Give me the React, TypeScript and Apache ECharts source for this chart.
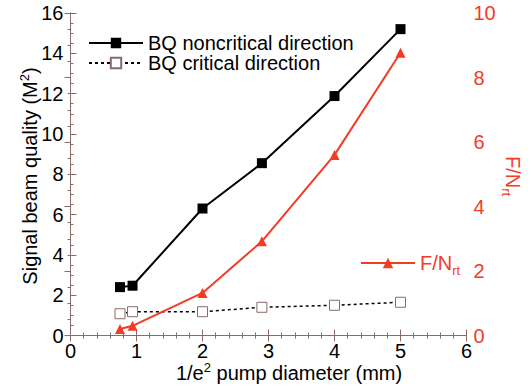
import React, { useEffect, useRef } from "react";
import * as echarts from "echarts";

const xVals = [0.75, 0.94, 2, 2.9, 4, 5];
const nonCritical = [2.4, 2.47, 6.3, 8.55, 11.88, 15.2];
const critical = [1.08, 1.18, 1.18, 1.4, 1.5, 1.65];
const fnrt = [0.2, 0.3, 1.32, 2.92, 5.6, 8.77];

const xTicks = { min: 0, max: 6, interval: 1 };
const yLeftTicks = { min: 0, max: 16, interval: 2 };
const yRightTicks = { min: 0, max: 10, interval: 2 };

const FONT = "'Liberation Sans', Arial, sans-serif";
const AXIS = "#8c6a6a";
const RED = "#f23c26";
const FS = 20;

export default function App() {
  const ref = useRef<HTMLDivElement>(null);
  useEffect(() => {
    document.body.style.margin = "0";
    if (!ref.current) return;
    const chart = echarts.init(ref.current, null, { renderer: "svg" });
    const axisCommon = {
      axisLine: { show: true, lineStyle: { color: AXIS, width: 1 } },
      axisTick: { show: true, inside: true, length: 6, lineStyle: { color: AXIS } },
      minorTick: { show: true, length: 3, lineStyle: { color: AXIS } },
      splitLine: { show: false },
      minorSplitLine: { show: false },
    };
    const pair = (ys: number[]) => xVals.map((x, i) => [x, ys[i]]);
    const supRich = {
      a: { fontSize: FS, fill: "#000", color: "#000", fontFamily: FONT, lineHeight: 24 },
      p: { fontSize: 13, fill: "#000", color: "#000", fontFamily: FONT, verticalAlign: "top", lineHeight: 24, padding: [0, 0, 10, 0] },
    };
    chart.setOption({
      animation: false,
      backgroundColor: "#fff",
      textStyle: { fontFamily: FONT },
      grid: { left: 70.5, right: 64.5, top: 13, bottom: 56.5, containLabel: false },
      xAxis: [
        {
          type: "value", position: "bottom", ...xTicks, ...axisCommon,
          minorTick: { ...axisCommon.minorTick, splitNumber: 5 },
          axisLabel: { fontSize: FS, color: "#000", margin: 5, fontFamily: FONT },
        },
        {
          type: "value", position: "top", ...xTicks, ...axisCommon,
          minorTick: { ...axisCommon.minorTick, splitNumber: 5 },
          axisLabel: { show: false },
        },
      ],
      yAxis: [
        {
          type: "value", position: "left", ...yLeftTicks, ...axisCommon,
          minorTick: { ...axisCommon.minorTick, splitNumber: 4 },
          axisLabel: { fontSize: FS, color: "#000", margin: 7, fontFamily: FONT },
        },
        {
          type: "value", position: "right", ...yRightTicks, ...axisCommon,
          minorTick: { ...axisCommon.minorTick, splitNumber: 4 },
          axisLabel: { fontSize: FS, color: RED, margin: 7, fontFamily: FONT },
        },
      ],
      legend: [
        {
          data: ["BQ noncritical direction", "BQ critical direction"],
          orient: "vertical", left: 83, top: 28, itemWidth: 54, itemHeight: 13, itemGap: 0,
          textStyle: { fontSize: FS, color: "#000", fontFamily: FONT },
        },
        {
          data: ["F/Nrt"],
          left: 355, top: 248, itemWidth: 54, itemHeight: 13,
          formatter: () => "{a|F/N}{s|rt}",
          textStyle: {
            color: RED, fontFamily: FONT,
            rich: {
              a: { fontSize: FS, color: RED, fontFamily: FONT },
              s: { fontSize: 13, color: RED, fontFamily: FONT, padding: [14, 0, 0, 0] },
            },
          },
        },
      ],
      series: [
        {
          name: "BQ noncritical direction", type: "line", xAxisIndex: 0, yAxisIndex: 0,
          data: pair(nonCritical), symbol: "rect", symbolSize: 10,
          lineStyle: { color: "#000", width: 2 }, itemStyle: { color: "#000" },
        },
        {
          name: "BQ critical direction", type: "line", xAxisIndex: 0, yAxisIndex: 0,
          data: pair(critical), symbol: "rect", symbolSize: 10,
          lineStyle: { color: "#000", width: 1.5, type: [3, 3] },
          itemStyle: { color: "#fff", borderColor: AXIS, borderWidth: 1 },
        },
        {
          name: "F/Nrt", type: "line", xAxisIndex: 0, yAxisIndex: 1,
          data: pair(fnrt), symbol: "triangle", symbolSize: 10,
          lineStyle: { color: RED, width: 2 }, itemStyle: { color: RED },
        },
      ],
      graphic: [
        {
          type: "text", x: 289, y: 373,
          style: {
            text: "{a|1/e}{p|2}{a| pump diameter (mm)}",
            align: "center", verticalAlign: "middle", textAlign: "center", textVerticalAlign: "middle",
            rich: supRich,
          },
        },
        {
          type: "text", x: 30, y: 176, rotation: Math.PI / 2,
          style: {
            text: "{a|Signal beam quality (M}{p|2}{a|)}",
            align: "center", verticalAlign: "middle", textAlign: "center", textVerticalAlign: "middle",
            rich: supRich,
          },
        },
        {
          type: "text", x: 513, y: 176, rotation: -Math.PI / 2,
          style: {
            text: "{a|F/N}{s|rt}",
            align: "center", verticalAlign: "middle", textAlign: "center", textVerticalAlign: "middle",
            rich: {
              a: { fontSize: FS, fill: RED, color: RED, fontFamily: FONT },
              s: { fontSize: 13, fill: RED, color: RED, fontFamily: FONT, padding: [14, 0, 0, 0] },
            },
          },
        },
      ],
    });
    return () => chart.dispose();
  }, []);
  return <div ref={ref} style={{ width: 531, height: 392 }} />;
}
